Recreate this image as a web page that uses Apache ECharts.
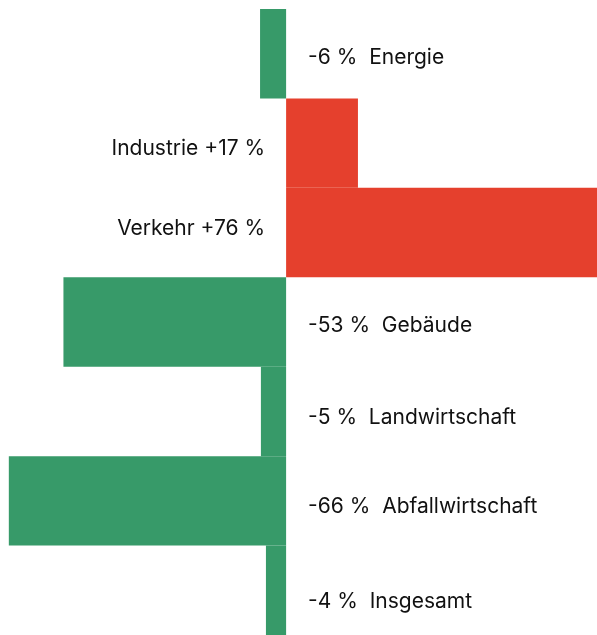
<!DOCTYPE html>
<html>
<head>
<meta charset="utf-8">
<script src="https://cdn.jsdelivr.net/npm/echarts@6/dist/echarts.min.js"></script>
<style>
  html, body { margin: 0; padding: 0; background: #fff; }
  #chart { width: 597px; height: 635px; }
</style>
</head>
<body>
<div id="chart"></div>
<script>
// Sektoren von oben nach unten
var sectors = ['Energie', 'Industrie', 'Verkehr', 'Gebäude', 'Landwirtschaft', 'Abfallwirtschaft', 'Insgesamt']
// Balkenlängen (in %)
var changes = [-6.2, 17.1, 76, -53, -6, -66, -4.8]
// angezeigte Prozentwerte
var pctLabels = ['-6 %', '+17 %', '+76 %', '-53 %', '-5 %', '-66 %', '-4 %']

var green = '#379a69'
var red = '#e5402d'
// kleine vertikale Verschiebung der Beschriftungen
var labelDy = [4, 6, -4, 4, 6, 6, 11]

var chart = echarts.init(document.getElementById('chart'))

var data = changes.map(function (v, i) {
  var neg = v < 0
  return {
    value: v,
    itemStyle: { color: neg ? green : red },
    label: {
      position: neg ? 'right' : 'left',
      distance: neg ? 22 : 21,
      offset: [0, labelDy[i]],
      formatter: neg ? pctLabels[i] + '  ' + sectors[i] : sectors[i] + ' ' + pctLabels[i]
    }
  }
})

chart.setOption({
  animation: false,
  grid: { left: 0, right: 0, top: 9, bottom: 0, containLabel: false },
  xAxis: {
    type: 'value',
    min: -68.1,
    max: 74,
    show: false
  },
  yAxis: {
    type: 'category',
    inverse: true,
    data: sectors,
    show: false
  },
  series: [{
    type: 'bar',
    barWidth: '100%',
    data: data,
    label: {
      show: true,
      color: '#111',
      fontSize: 21,
      fontFamily: 'Inter, Liberation Sans, sans-serif'
    }
  }]
})
</script>
</body>
</html>
